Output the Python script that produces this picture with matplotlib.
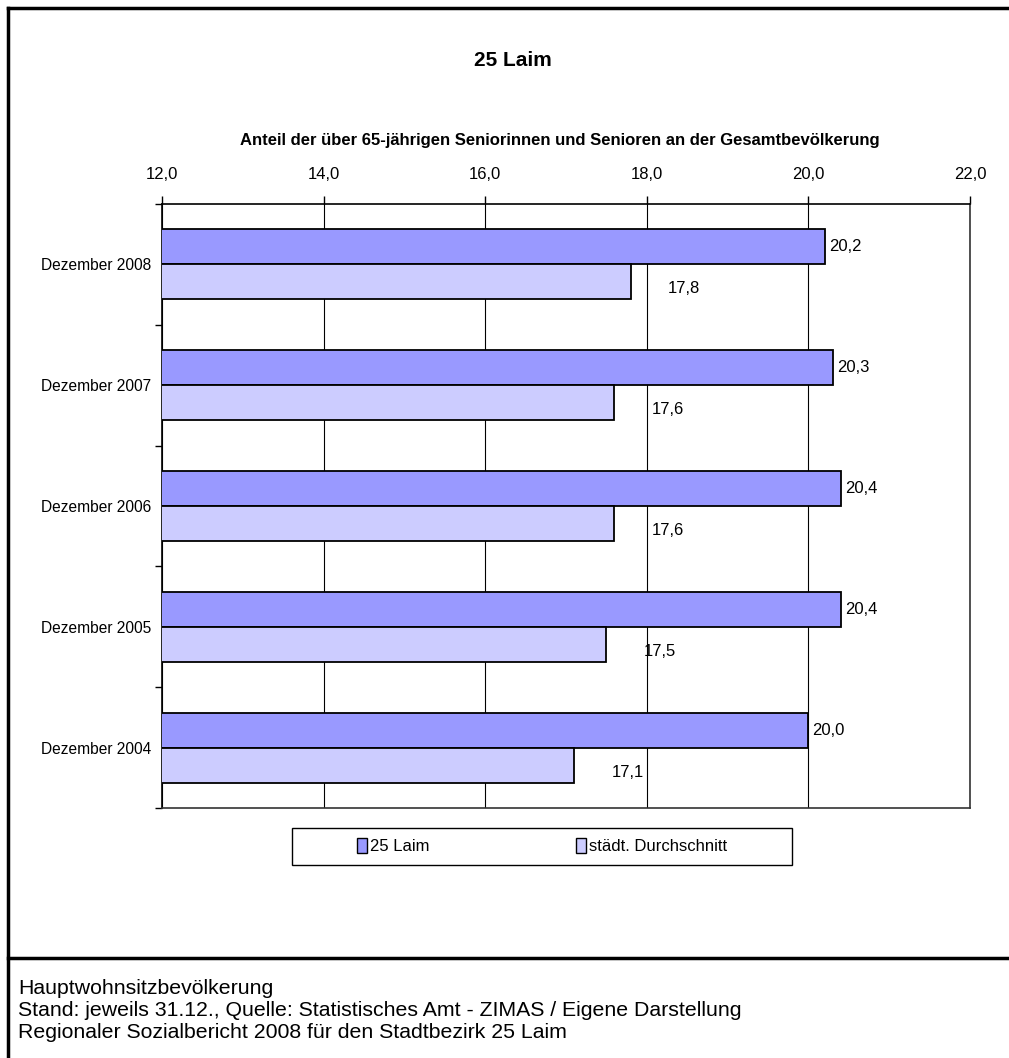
import matplotlib.pyplot as plt
from matplotlib import font_manager
from matplotlib.lines import Line2D
from matplotlib.patches import Patch, Rectangle

# data
categories = ["Dezember 2008", "Dezember 2007", "Dezember 2006", "Dezember 2005", "Dezember 2004"]
laim = [20.2, 20.3, 20.4, 20.4, 20.0]
stadt = [17.8, 17.6, 17.6, 17.5, 17.1]
series_names = ["25 Laim", "städt. Durchschnitt"]
x_ticks = [12, 14, 16, 18, 20, 22]
footer = ["Hauptwohnsitzbevölkerung",
          "Stand: jeweils 31.12., Quelle: Statistisches Amt - ZIMAS / Eigene Darstellung",
          "Regionaler Sozialbericht 2008 für den Stadtbezirk 25 Laim"]

names = {f.name for f in font_manager.fontManager.ttflist}
narrow = "Liberation Sans Narrow" if "Liberation Sans Narrow" in names else "Liberation Sans"
plt.rcParams["font.family"] = ["Liberation Sans", "DejaVu Sans"]

c_laim = "#9999FF"
c_stadt = "#CCCCFF"
W, H = 1009, 1058

def fmt(v):
    return f"{v:.1f}".replace(".", ",")

fig = plt.figure(figsize=(W / 100, H / 100), dpi=100)
ax = fig.add_axes([162 / W, 1 - 808 / H, 808 / W, 604 / H])

y = list(range(len(categories)))
h = 0.29
off = 0.145
ax.barh([i - off for i in y], laim, height=h, color=c_laim, edgecolor="black", linewidth=1.3, zorder=3)
ax.barh([i + off for i in y], stadt, height=h, color=c_stadt, edgecolor="black", linewidth=1.3, zorder=3)

for i, v in enumerate(laim):
    ax.annotate(fmt(v), (v, i - off), xytext=(3, 0), textcoords="offset points",
                va="center", ha="left", fontsize=12, family=narrow)
for i, v in enumerate(stadt):
    ax.annotate(fmt(v), (v, i + off), xytext=(27, -5), textcoords="offset points",
                va="center", ha="left", fontsize=12, family=narrow)

ax.set_xlim(12, 22)
ax.set_ylim(len(categories) - 0.5, -0.5)
ax.set_xticks(x_ticks)
ax.set_xticklabels([fmt(t) for t in x_ticks], fontsize=12, family=narrow)
ax.xaxis.tick_top()
ax.tick_params(axis="x", direction="out", length=6, width=1, pad=10)
ax.grid(axis="x", color="black", linewidth=0.8, zorder=0)

ax.set_yticks(y)
ax.set_yticklabels(categories, fontsize=11.2, family=narrow)
ax.set_yticks([i + 0.5 for i in range(-1, len(categories))], minor=True)
ax.tick_params(axis="y", which="major", length=0, pad=8)
ax.tick_params(axis="y", which="minor", direction="out", length=5, width=1)

for s in ax.spines.values():
    s.set_linewidth(1.2)
ax.spines["right"].set_color("#333333")
ax.spines["bottom"].set_color("#333333")

fig.text(513 / W, 1 - 60 / H, "25 Laim", ha="center", va="center",
         fontsize=15, fontweight="bold", family=narrow)
fig.text(560 / W, 1 - 141 / H,
         "Anteil der über 65-jährigen Seniorinnen und Senioren an der Gesamtbevölkerung",
         ha="center", va="center", fontsize=12, fontweight="bold", family=narrow)

# legend: entries without frame, box drawn separately
handles = [Patch(facecolor=c_laim, edgecolor="black", linewidth=1),
           Patch(facecolor=c_stadt, edgecolor="black", linewidth=1)]
fig.legend(handles, series_names, loc="center", ncol=2,
           bbox_to_anchor=(542 / W, 1 - 846 / H), frameon=False,
           handlelength=0.6, handleheight=1.0, handletextpad=0.2,
           columnspacing=8.8, prop={"family": narrow, "size": 12})
fig.add_artist(Rectangle((292 / W, 1 - 865 / H), 500 / W, 37 / H, transform=fig.transFigure,
                         facecolor="none", edgecolor="black", linewidth=1))

for k, line in enumerate(footer):
    fig.text(18 / W, 1 - (988 + k * 22) / H, line, ha="left", va="center",
             fontsize=15.3, family="Liberation Sans")

# outer frame of the sheet
fig.add_artist(Line2D([8 / W, 8 / W], [0, 1 - 8 / H], color="black", lw=2.5))
fig.add_artist(Line2D([8 / W, 1], [1 - 8 / H, 1 - 8 / H], color="black", lw=2.5))
fig.add_artist(Line2D([8 / W, 1], [1 - 958 / H, 1 - 958 / H], color="black", lw=2.5))

fig.savefig("out.png", dpi=100)
